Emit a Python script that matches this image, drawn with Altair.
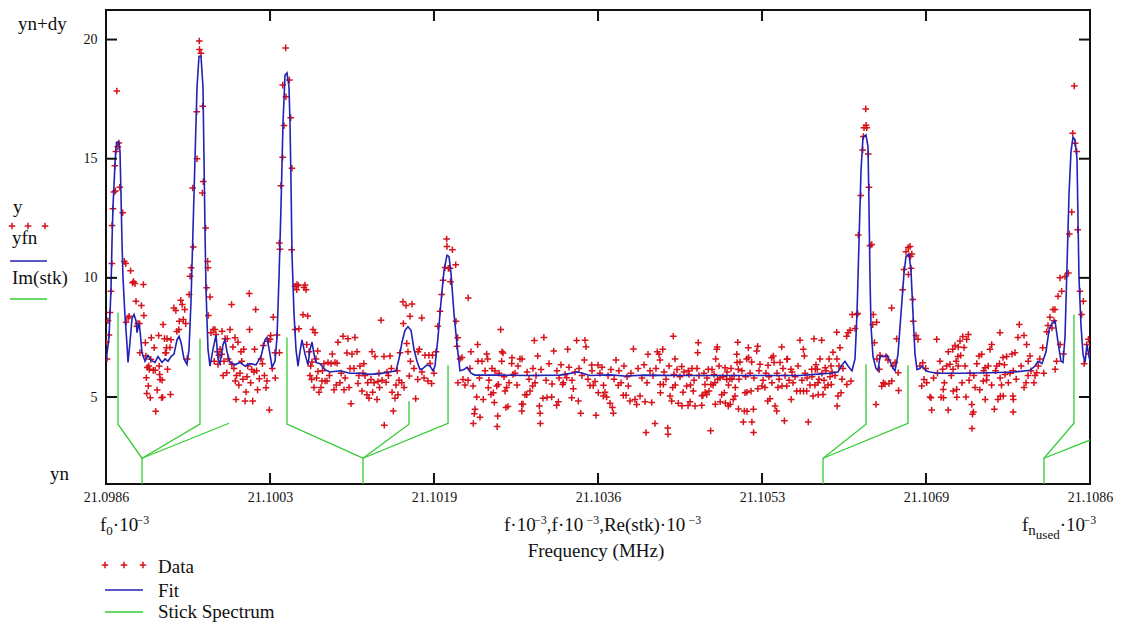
import altair as alt
import pandas as pd

# ---------------- data: frequency f in kHz, signal y ----------------
data_seg1 = [(21098.605,7.3),(21098.610,6.6),(21098.620,8.2),(21098.630,7.6),(21098.640,8.55),(21098.650,9.44),(21098.660,10.6),(21098.662,12.2),(21098.670,12.9),(21098.680,13.6),(21098.690,14.7),(21098.695,13.65),(21098.700,15.3),(21098.710,17.84),(21098.720,15.5),(21098.730,15.66),(21098.740,13.8),(21098.770,12.73),(21098.786,10.69),(21098.800,10.6),(21098.805,8.14),(21098.825,8.32),(21098.835,8.39),(21098.850,10.3),(21098.870,9.79),(21098.880,9.84),(21098.895,9.76),(21098.905,9.02),(21098.915,7.97),(21098.925,8.08),(21098.940,8.08),(21098.945,6.86),(21098.960,8.84),(21098.980,9.72),(21098.985,8.42),(21099.000,7.28),(21099.005,6.72),(21099.010,5.81),(21099.015,5.15),(21099.020,6.24),(21099.030,5.46),(21099.035,6.3),(21099.040,6.16),(21099.050,4.97),(21099.055,6.58),(21099.060,7.49),(21099.080,6.12),(21099.090,7.07),(21099.100,6.12),(21099.105,4.4),(21099.120,5.29),(21099.135,7.58),(21099.140,6.3),(21099.145,5.95),(21099.150,5.74),(21099.165,4.97),(21099.170,5.71),(21099.175,4.99),(21099.180,8.04),(21099.195,7.45),(21099.203,6.86),(21099.210,6.86),(21099.215,7.07),(21099.220,7.45),(21099.225,6.16),(21099.250,7.08),(21099.255,5.11),(21099.260,7.4),(21099.290,8.74),(21099.310,8.63),(21099.320,7.75),(21099.340,7.83),(21099.345,8.18),(21099.360,9.06),(21099.375,8.88),(21099.385,8.25),(21099.400,8.67),(21099.410,8.08),(21099.425,6.6),(21099.445,9.3),(21099.455,10.07),(21099.465,10.42),(21099.481,13.77),(21099.487,11.3)]

data_seg2 = [(21099.522,16.97),(21099.525,15.0),(21099.548,19.94),(21099.550,19.58),(21099.565,19.42),(21099.579,13.56),(21099.583,17.2),(21099.589,14.04),(21099.613,12.09),(21099.623,9.58),(21099.633,10.69),(21099.636,10.42),(21099.640,8.42),(21099.657,9.2),(21099.667,7.7),(21099.690,7.83),(21099.700,6.5),(21099.708,7.83),(21099.718,7.62),(21099.733,6.9),(21099.738,6.37),(21099.748,6.75),(21099.760,7.0),(21099.776,6.79),(21099.779,7.76),(21099.790,5.9),(21099.799,6.5),(21099.809,7.45),(21099.827,6.02),(21099.832,7.45),(21099.840,6.6),(21099.860,7.83),(21099.876,8.88),(21099.879,6.37),(21099.890,7.1),(21099.900,6.2),(21099.911,7.49),(21099.914,5.67),(21099.921,4.9),(21099.926,5.9),(21099.941,7.3),(21099.950,5.5),(21099.962,6.0),(21099.972,6.9),(21099.980,6.5),(21099.992,5.75),(21100.000,7.0),(21100.013,4.83),(21100.023,5.21),(21100.033,5.85),(21100.040,6.3),(21100.056,9.34),(21100.059,7.83),(21100.070,5.6),(21100.081,6.15),(21100.091,4.83),(21100.104,6.05),(21100.110,7.0),(21100.121,8.67),(21100.131,6.1),(21100.140,5.3),(21100.158,5.77),(21100.175,6.6),(21100.190,6.4),(21100.199,7.16),(21100.210,5.9),(21100.226,5.39),(21100.236,5.67),(21100.249,7.34),(21100.260,4.46),(21100.267,7.42),(21100.274,7.58),(21100.290,6.2),(21100.300,8.35),(21100.317,6.86),(21100.320,5.8),(21100.338,7.6),(21100.361,11.46),(21100.362,6.86),(21100.368,11.2),(21100.378,13.87),(21100.395,15.06),(21100.396,18.09)]

data_seg3 = [(21100.409,16.39),(21100.426,19.65),(21100.429,17.6),(21100.463,18.3),(21100.477,16.72),(21100.487,11.18),(21100.490,14.6),(21100.521,9.65),(21100.522,7.83),(21100.538,9.5),(21100.541,9.72),(21100.554,9.68),(21100.561,7.86),(21100.602,8.45),(21100.612,9.6),(21100.622,9.7),(21100.633,9.5),(21100.640,7.2),(21100.650,8.4),(21100.663,6.9),(21100.673,5.9),(21100.680,6.3),(21100.690,5.74),(21100.693,6.47),(21100.704,7.83),(21100.714,5.4),(21100.724,7.7),(21100.734,6.6),(21100.740,5.8),(21100.751,6.93),(21100.754,6.07),(21100.765,5.2),(21100.785,5.4),(21100.795,5.67),(21100.800,6.1),(21100.815,6.4),(21100.826,5.67),(21100.846,5.67),(21100.856,6.45),(21100.870,5.9),(21100.887,6.4),(21100.900,6.8),(21100.917,5.3),(21100.927,6.45),(21100.940,5.5),(21100.948,6.42),(21100.958,7.3),(21100.978,5.6),(21100.990,6.0),(21101.009,7.55),(21101.019,5.3),(21101.030,5.8),(21101.049,6.85),(21101.059,7.45),(21101.070,5.4),(21101.080,6.2),(21101.090,4.72),(21101.100,6.8),(21101.120,6.2),(21101.130,7.5),(21101.151,6.9),(21101.161,5.57),(21101.170,5.9),(21101.181,6.3),(21101.202,5.25),(21101.212,6.0),(21101.220,6.4),(21101.232,5.9),(21101.252,5.1),(21101.260,5.6),(21101.273,4.95),(21101.293,5.74),(21101.303,6.9),(21101.310,5.2),(21101.324,5.6),(21101.334,6.7),(21101.354,4.9),(21101.364,5.65),(21101.374,6.0),(21101.380,5.4),(21101.395,8.22),(21101.405,5.7),(21101.425,6.7),(21101.428,3.82),(21101.446,5.62),(21101.456,6.05),(21101.470,5.9),(21101.486,6.72),(21101.500,6.2),(21101.507,5.2),(21101.520,4.41),(21101.537,4.95),(21101.547,5.5),(21101.560,6.1),(21101.567,5.1),(21101.578,5.7),(21101.588,6.86)]

data_seg4 = [(21101.605,5.6),(21101.618,9.0),(21101.622,8.08),(21101.629,5.4),(21101.649,8.84),(21101.656,7.25),(21101.669,6.9),(21101.682,5.88),(21101.689,8.39),(21101.694,6.5),(21101.710,8.9),(21101.730,6.2),(21101.747,4.93),(21101.768,5.74),(21101.771,6.9),(21101.784,7.0),(21101.809,8.32),(21101.811,6.05),(21101.832,5.8),(21101.842,6.75),(21101.872,5.67),(21101.882,6.75),(21101.893,6.41),(21101.909,5.57),(21101.918,6.75),(21101.933,6.0),(21101.954,6.9),(21101.972,7.97),(21101.994,8.6),(21102.012,9.3),(21102.025,9.9),(21102.045,10.43),(21102.062,11.63),(21102.065,11.32),(21102.079,10.4),(21102.096,10.4),(21102.101,9.84),(21102.120,11.18),(21102.154,10.55),(21102.157,8.18),(21102.167,7.13),(21102.174,7.49),(21102.177,5.6),(21102.198,6.6),(21102.218,6.66),(21102.228,5.74),(21102.248,5.5),(21102.279,5.7),(21102.281,9.16),(21102.299,6.2),(21102.309,6.9),(21102.330,5.46),(21102.333,3.89),(21102.343,4.3)]

data_seg5a = [(21102.350,4.49),(21102.367,5.0),(21102.377,7.2),(21102.380,6.5),(21102.395,5.8),(21102.401,4.15),(21102.421,6.5),(21102.434,4.9),(21102.452,6.1),(21102.469,6.8),(21102.479,6.6),(21102.485,5.39),(21102.492,5.7),(21102.513,5.11),(21102.523,6.2),(21102.536,5.18),(21102.546,4.77),(21102.553,6.09),(21102.571,5.46),(21102.575,3.76),(21102.581,4.2),(21102.587,5.53),(21102.594,6.0),(21102.611,7.83),(21102.621,6.5),(21102.624,6.9),(21102.635,6.85),(21102.645,5.85),(21102.655,5.25),(21102.665,4.56),(21102.672,5.4),(21102.685,4.6),(21102.696,5.6),(21102.723,6.41),(21102.726,6.65),(21102.736,5.95),(21102.757,6.0),(21102.777,5.5),(21102.787,6.3),(21102.807,6.6),(21102.825,4.7),(21102.826,4.41),(21102.828,6.6),(21102.838,4.7),(21102.858,5.1),(21102.876,5.1),(21102.879,6.05),(21102.899,5.75),(21102.909,5.25),(21102.936,5.46),(21102.939,6.2),(21102.953,7.37),(21102.960,5.6),(21102.970,5.9),(21102.987,6.72),(21103.004,4.62),(21103.011,4.32),(21103.014,3.89),(21103.021,6.15),(21103.041,4.95),(21103.050,7.5),(21103.072,5.7),(21103.082,4.98),(21103.102,6.4),(21103.129,5.0),(21103.133,5.55),(21103.150,6.93),(21103.180,4.65),(21103.183,6.1),(21103.197,4.8),(21103.204,5.8),(21103.224,6.35),(21103.241,5.53),(21103.247,5.6),(21103.265,5.95),(21103.282,5.81),(21103.292,7.0),(21103.305,6.25),(21103.333,4.97),(21103.336,5.7),(21103.349,5.35),(21103.366,6.05),(21103.383,7.37),(21103.400,4.83),(21103.407,6.2),(21103.424,4.32),(21103.437,5.9),(21103.461,6.55),(21103.468,7.38),(21103.478,7.11),(21103.498,5.75),(21103.519,5.48),(21103.536,6.34),(21103.539,6.1),(21103.552,5.48),(21103.570,5.65),(21103.580,4.23),(21103.600,6.34),(21103.603,5.18),(21103.620,6.0),(21103.641,6.25),(21103.654,5.04),(21103.656,5.49),(21103.671,5.2),(21103.688,5.0),(21103.702,5.9),(21103.722,4.74),(21103.732,6.15),(21103.746,4.56),(21103.756,4.32),(21103.763,5.75),(21103.783,6.55),(21103.806,5.49),(21103.813,6.1),(21103.834,5.6),(21103.857,5.07),(21103.864,6.3),(21103.885,5.07),(21103.895,5.85),(21103.908,5.46),(21103.925,4.83),(21103.935,6.0),(21103.960,7.02),(21103.976,4.9),(21103.993,4.69),(21104.007,6.2),(21104.027,5.04),(21104.047,5.8),(21104.068,6.35),(21104.078,4.8),(21104.088,3.51),(21104.098,5.6)]

data_seg5b = [(21104.108,6.79),(21104.129,6.1),(21104.146,4.77),(21104.159,5.9),(21104.179,3.89),(21104.189,6.2),(21104.203,6.9),(21104.220,6.79),(21104.230,6.55),(21104.232,5.53),(21104.235,5.18),(21104.258,7.0),(21104.264,5.53),(21104.271,6.05),(21104.291,5.75),(21104.309,3.7),(21104.312,3.44),(21104.322,6.3),(21104.332,5.04),(21104.349,4.83),(21104.359,5.4),(21104.365,7.55),(21104.372,5.95),(21104.383,6.6),(21104.385,5.5),(21104.403,6.15),(21104.416,4.74),(21104.433,5.85),(21104.451,6.28),(21104.453,4.63),(21104.464,5.2),(21104.474,6.05),(21104.501,5.46),(21104.515,4.64),(21104.517,6.1),(21104.525,5.95),(21104.535,4.8),(21104.540,5.5),(21104.555,6.2),(21104.568,5.25),(21104.576,5.7),(21104.586,4.62),(21104.606,6.2),(21104.613,6.86),(21104.619,7.28),(21104.626,5.9),(21104.654,4.65),(21104.656,5.05),(21104.667,5.07),(21104.677,6.0),(21104.687,5.53),(21104.690,5.2),(21104.705,5.11),(21104.708,5.8),(21104.721,6.16),(21104.728,5.25),(21104.745,3.58),(21104.748,5.53),(21104.759,6.15),(21104.769,5.5),(21104.779,5.95),(21104.789,5.6),(21104.792,4.7),(21104.796,6.6),(21104.806,7.0),(21104.812,7.1),(21104.816,5.75),(21104.830,6.3),(21104.840,5.8),(21104.842,4.8),(21104.857,5.1),(21104.870,5.85),(21104.884,5.18),(21104.891,6.23),(21104.894,4.75),(21104.908,5.74),(21104.911,6.05),(21104.924,4.62),(21104.926,5.5),(21104.941,5.77),(21104.943,4.7),(21104.952,6.2),(21104.962,5.75),(21104.975,4.9),(21104.982,5.9),(21104.992,5.04),(21104.995,5.4),(21105.010,6.79),(21105.013,6.45),(21105.020,7.3),(21105.026,6.16),(21105.028,4.5),(21105.033,5.75),(21105.043,6.47),(21105.063,6.1),(21105.077,3.95),(21105.087,4.41),(21105.094,5.18),(21105.100,5.85),(21105.111,6.6),(21105.113,5.2),(21105.114,4.4),(21105.128,7.07),(21105.130,6.66),(21105.145,6.0),(21105.155,5.25),(21105.162,6.47),(21105.164,3.95),(21105.179,4.49),(21105.181,3.51),(21105.185,5.8),(21105.213,6.93),(21105.223,7.13),(21105.225,5.35),(21105.236,6.1),(21105.246,6.37),(21105.267,5.46),(21105.277,5.7),(21105.297,5.4),(21105.307,6.0),(21105.325,4.83),(21105.328,6.33),(21105.338,5.85),(21105.348,4.93),(21105.365,6.65),(21105.368,5.6),(21105.382,6.72),(21105.389,6.45),(21105.399,4.62),(21105.416,4.41),(21105.419,6.0),(21105.429,5.4),(21105.440,5.75),(21105.450,6.45),(21105.467,7.1),(21105.470,5.46),(21105.480,6.2),(21105.494,4.0),(21105.501,5.9),(21105.518,5.46),(21105.520,6.58),(21105.524,6.6),(21105.541,5.7),(21105.561,6.16),(21105.563,4.9),(21105.572,6.05),(21105.582,5.6),(21105.602,5.85),(21105.619,5.25),(21105.633,6.3),(21105.653,7.38),(21105.655,5.25),(21105.673,5.7),(21105.687,7.0),(21105.689,5.25),(21105.697,6.72),(21105.704,6.0),(21105.721,5.25),(21105.724,5.8),(21105.737,3.95),(21105.754,5.5),(21105.772,6.16),(21105.775,5.85),(21105.785,5.04),(21105.795,7.44),(21105.805,5.5),(21105.807,6.16),(21105.815,6.35),(21105.829,6.16),(21105.836,5.6),(21105.838,5.1),(21105.846,5.75),(21105.856,6.6),(21105.873,7.38),(21105.876,6.0),(21105.887,5.11),(21105.897,5.7),(21105.907,5.4),(21105.909,6.23),(21105.917,6.1),(21105.937,5.5),(21105.948,6.6),(21105.958,5.85),(21105.968,6.3),(21105.970,5.53),(21105.978,6.05),(21105.988,6.88),(21106.009,5.9),(21106.026,7.72),(21106.028,6.6),(21106.030,4.62),(21106.039,5.04),(21106.049,6.3),(21106.059,7.07),(21106.070,5.18),(21106.080,5.75),(21106.090,6.2)]

data_seg6 = [(21106.127,7.55),(21106.129,5.53),(21106.141,7.7),(21106.161,7.8),(21106.171,5.67),(21106.184,8.46),(21106.212,7.88),(21106.229,8.46),(21106.239,8.5),(21106.245,11.8),(21106.270,13.46),(21106.290,15.37),(21106.297,15.93),(21106.303,16.3),(21106.321,17.09),(21106.324,16.4),(21106.331,16.3),(21106.347,15.2),(21106.354,13.8),(21106.364,11.35),(21106.382,11.4),(21106.392,8.04),(21106.398,8.46),(21106.409,7.28),(21106.425,4.69),(21106.432,8.14),(21106.435,6.6),(21106.459,6.16),(21106.466,6.75),(21106.483,5.45),(21106.499,5.6),(21106.517,5.55),(21106.527,6.7),(21106.547,6.55),(21106.557,5.57),(21106.584,8.74),(21106.586,5.67),(21106.598,6.3),(21106.618,6.45),(21106.635,7.44),(21106.651,6.02),(21106.655,5.27),(21106.695,9.5),(21106.709,10.35),(21106.730,11.1),(21106.753,11.27),(21106.755,10.14),(21106.771,11.32),(21106.776,10.9),(21106.781,10.4),(21106.789,11.0),(21106.799,9.09),(21106.804,8.18),(21106.832,7.58),(21106.852,7.42),(21106.872,6.3),(21106.890,5.46),(21106.900,6.44)]

data_seg7 = [(21106.913,5.74),(21106.930,6.2),(21106.940,5.6),(21106.974,5.0),(21106.984,4.97),(21106.991,4.45),(21107.010,5.8),(21107.042,7.42),(21107.050,6.0),(21107.076,6.5),(21107.086,4.99),(21107.103,6.16),(21107.109,5.32),(21107.111,4.97),(21107.120,5.6),(21107.143,6.3),(21107.159,4.45),(21107.160,6.9),(21107.177,6.37),(21107.190,5.9),(21107.205,7.0),(21107.208,6.16),(21107.210,5.25),(21107.228,7.16),(21107.240,6.5),(21107.245,5.32),(21107.247,4.99),(21107.258,6.7),(21107.260,6.3),(21107.261,7.1),(21107.279,7.35),(21107.286,6.74),(21107.300,5.6),(21107.307,7.54),(21107.320,7.08),(21107.330,6.3),(21107.340,5.0),(21107.347,7.42),(21107.364,7.62),(21107.371,5.7),(21107.380,6.0),(21107.399,4.69),(21107.401,3.68),(21107.405,4.28),(21107.415,4.37),(21107.420,5.9),(21107.432,5.4),(21107.450,6.4),(21107.472,6.72),(21107.480,5.3),(21107.499,6.79),(21107.515,5.67),(21107.520,6.1),(21107.533,6.23),(21107.535,4.9),(21107.549,5.71),(21107.550,5.9),(21107.566,6.3),(21107.584,7.0),(21107.600,5.5),(21107.601,7.2),(21107.628,4.49),(21107.640,6.1),(21107.652,6.3),(21107.665,4.9),(21107.680,6.4),(21107.685,7.7),(21107.687,5.8),(21107.689,5.04),(21107.700,5.5),(21107.716,6.66),(21107.718,5.04),(21107.730,6.35),(21107.736,5.95),(21107.753,6.7),(21107.770,5.6),(21107.787,6.0),(21107.807,6.8),(21107.817,5.04),(21107.819,4.37),(21107.820,6.1),(21107.821,4.9),(21107.838,6.86),(21107.850,5.75),(21107.868,7.5),(21107.881,8.04),(21107.900,6.3),(21107.929,7.58),(21107.930,5.4),(21107.950,5.6),(21107.956,7.2),(21107.970,5.9),(21107.972,6.5),(21107.990,6.72),(21108.000,6.1),(21108.030,5.6),(21108.041,5.9)]

data_seg8 = [(21108.058,6.02),(21108.074,6.3),(21108.090,6.6),(21108.119,7.07),(21108.130,6.0),(21108.160,7.74),(21108.173,8.0),(21108.193,8.35),(21108.214,7.9),(21108.224,8.67),(21108.234,8.2),(21108.244,8.67),(21108.246,6.16),(21108.260,6.5),(21108.275,9.23),(21108.295,10.0),(21108.297,7.2),(21108.312,9.44),(21108.330,6.8),(21108.346,10.06),(21108.380,10.2),(21108.390,11.84),(21108.414,12.76),(21108.424,16.07),(21108.440,18.05),(21108.448,15.65),(21108.465,15.3),(21108.475,12.02),(21108.498,9.44),(21108.515,8.46),(21108.532,9.02),(21108.540,6.4),(21108.567,7.2),(21108.584,7.42),(21108.590,6.8)]

fit_curve = [(21098.6000,6.5),(21098.6305,7.5),(21098.6508,9.5),(21098.6610,11.5),(21098.6711,13.0),(21098.6915,14.8),(21098.7016,15.5),(21098.7118,15.7),(21098.7321,15.7),(21098.7423,15.3),(21098.7524,13.5),(21098.7626,11.5),(21098.7728,10.0),(21098.7931,8.4),(21098.8134,7.2),(21098.8236,6.45),(21098.8439,7.3),(21098.8642,8.3),(21098.8846,8.46),(21098.9049,8.2),(21098.9150,7.7),(21098.9354,8.1),(21098.9455,7.8),(21098.9659,6.86),(21098.9963,6.5),(21099.0268,6.75),(21099.0573,6.55),(21099.0980,6.45),(21099.1285,6.7),(21099.1691,6.45),(21099.1996,6.6),(21099.2301,6.5),(21099.2606,6.7),(21099.2911,6.8),(21099.3215,7.4),(21099.3419,7.55),(21099.3622,7.3),(21099.3927,6.6),(21099.4232,6.37),(21099.4435,7.0),(21099.4638,9.0),(21099.4841,12.0),(21099.5045,15.0),(21099.5248,18.0),(21099.5451,19.3),(21099.5654,19.3),(21099.5858,18.0),(21099.5959,15.0),(21099.6061,12.0),(21099.6163,9.5),(21099.6366,7.0),(21099.6569,6.3),(21099.6874,7.0),(21099.7179,7.6),(21099.7382,6.6),(21099.7585,6.4),(21099.7890,7.2),(21099.8093,7.4),(21099.8297,6.9),(21099.8602,6.45),(21099.9110,6.35),(21099.9618,6.45),(21100.0126,6.3),(21100.0634,6.4),(21100.1244,6.35),(21100.1752,6.7),(21100.2159,7.4),(21100.2362,7.5),(21100.2667,6.8),(21100.2870,6.25),(21100.3175,6.5),(21100.3378,7.5),(21100.3581,10.0),(21100.3785,13.0),(21100.3988,16.5),(21100.4191,18.5),(21100.4394,18.6),(21100.4598,18.0),(21100.4699,16.5),(21100.4801,14.0),(21100.4902,11.0),(21100.5106,8.5),(21100.5309,7.0),(21100.5512,6.3),(21100.5715,6.9),(21100.5919,7.4),(21100.6224,6.8),(21100.6528,6.35),(21100.6732,7.0),(21100.6935,7.3),(21100.7138,6.8),(21100.7341,6.45),(21100.7748,6.4),(21100.8256,6.15),(21100.8764,6.05),(21100.9780,6.1),(21101.0797,6.0),(21101.1813,6.0),(21101.2829,5.95),(21101.3846,5.98),(21101.4862,6.05),(21101.5472,6.1),(21101.5776,6.6),(21101.6081,7.3),(21101.6386,7.8),(21101.6691,7.95),(21101.6996,7.8),(21101.7301,7.0),(21101.7606,6.5),(21101.7911,6.15),(21101.8215,6.2),(21101.8622,6.35),(21101.8927,6.3),(21101.9232,6.1),(21101.9435,6.3),(21101.9740,7.5),(21102.0045,9.0),(21102.0350,10.3),(21102.0654,10.95),(21102.0858,10.9),(21102.1061,10.2),(21102.1366,8.5),(21102.1671,7.2),(21102.1976,6.1),(21102.2382,6.15),(21102.2687,6.25),(21102.3093,6.0),(21102.3500,5.92),(21102.6041,5.92),(21102.9089,5.9),(21103.2138,5.92),(21103.3967,6.05),(21103.5187,5.9),(21103.7220,5.93),(21103.8744,5.88),(21104.0776,5.92),(21104.4333,5.9),(21104.8398,5.9),(21105.2463,5.9),(21105.6528,5.9),(21105.8053,5.95),(21105.9577,6.0),(21106.0390,6.05),(21106.0797,6.35),(21106.1102,6.5),(21106.1407,6.3),(21106.1813,6.1),(21106.2118,6.6),(21106.2321,8.5),(21106.2524,11.5),(21106.2728,14.5),(21106.2931,15.9),(21106.3236,16.0),(21106.3439,15.5),(21106.3541,13.0),(21106.3642,10.0),(21106.3744,8.0),(21106.3947,6.7),(21106.4252,6.2),(21106.4455,6.1),(21106.4659,6.7),(21106.5065,6.7),(21106.5370,6.75),(21106.5675,6.5),(21106.5980,6.2),(21106.6183,6.1),(21106.6488,6.8),(21106.6793,8.5),(21106.7098,10.2),(21106.7301,10.9),(21106.7606,11.0),(21106.7809,10.3),(21106.8012,8.5),(21106.8215,6.8),(21106.8419,6.15),(21106.8724,6.2),(21106.8927,6.3),(21106.9333,6.1),(21106.9740,6.05),(21107.0451,6.0),(21107.2789,6.0),(21107.5837,6.02),(21107.8378,6.05),(21107.9902,6.12),(21108.0411,6.3),(21108.0715,6.5),(21108.1122,6.4),(21108.1528,6.9),(21108.1833,7.8),(21108.2138,8.1),(21108.2443,8.2),(21108.2748,7.3),(21108.3053,6.5),(21108.3256,6.45),(21108.3459,7.5),(21108.3663,10.5),(21108.3866,13.5),(21108.4069,15.3),(21108.4272,15.9),(21108.4476,15.8),(21108.4679,15.0),(21108.4780,12.5),(21108.4882,10.0),(21108.5085,8.0),(21108.5289,6.8),(21108.5492,6.45),(21108.5695,7.2),(21108.6000,6.5)]

# stick spectrum polylines: (path id, f kHz, y)
stick_points = [
    (0,21098.966,0.0),(0,21098.966,2.43),(0,21098.722,3.86),(0,21098.722,8.55),
    (1,21098.966,2.43),(1,21099.555,3.86),(1,21099.555,7.46),
    (2,21098.966,2.43),(2,21099.850,3.90),
    (3,21101.212,0.0),(3,21101.212,2.43),(3,21100.439,3.86),(3,21100.439,7.50),
    (4,21101.212,2.43),(4,21101.679,3.86),(4,21101.679,4.82),
    (5,21101.212,2.43),(5,21102.076,3.90),(5,21102.076,6.33),
    (6,21105.887,0.0),(6,21105.887,2.43),(6,21106.324,3.86),(6,21106.324,6.37),
    (7,21105.887,2.43),(7,21106.750,3.90),(7,21106.750,6.33),
    (8,21108.132,0.0),(8,21108.132,2.43),(8,21108.437,3.90),(8,21108.437,8.46),
    (9,21108.132,2.43),(9,21108.800,3.52),
]

x_tick_values = [21.0986, 21.100267, 21.101933, 21.1036, 21.105267, 21.106933, 21.1086]
y_tick_values = [5, 10, 15, 20]

# ---------------- styling ----------------
W, H = 984, 474
X_DOMAIN = [21.0986, 21.1086]
Y_DOMAIN = [1.35, 21.24]
FONT = "Liberation Serif, Times New Roman, Times, Tinos, Noto Serif, DejaVu Serif, FreeSerif, serif"
RED = "#d8121a"
BLUE = "#2222b4"
GREEN = "#33cc33"
INK = "#111111"
CROSS = "M-1,0L1,0M0,-1L0,1"

pts = pd.DataFrame(data_seg1 + data_seg2 + data_seg3 + data_seg4 + data_seg5a +
                   data_seg5b + data_seg6 + data_seg7 + data_seg8, columns=["f", "y"])
pts["x"] = pts["f"] * 1e-3
fit = pd.DataFrame(fit_curve, columns=["f", "y"])
fit["x"] = fit["f"] * 1e-3
stk = pd.DataFrame(stick_points, columns=["path", "f", "y"])
stk["x"] = stk["f"] * 1e-3
stk["k"] = range(len(stk))

xaxis = alt.Axis(values=x_tick_values, format=".4f", title=None, ticks=False, tickSize=0,
                 domain=False, grid=False, labelFont=FONT, labelFontSize=14, labelColor=INK,
                 labelPadding=6, labelFlush=False, labelOverlap=False, labelBound=False)
yaxis = alt.Axis(values=y_tick_values, format="d", title=None, ticks=False, tickSize=0,
                 domain=False, grid=False, labelFont=FONT, labelFontSize=14, labelColor=INK,
                 labelPadding=9, labelOverlap=False)
X = alt.X("x:Q", scale=alt.Scale(domain=X_DOMAIN, nice=False, zero=False), axis=xaxis)
Y = alt.Y("y:Q", scale=alt.Scale(domain=Y_DOMAIN, nice=False, zero=False), axis=yaxis)

points_layer = alt.Chart(pts).mark_point(shape=CROSS, size=44, filled=False, color=RED,
                                         strokeWidth=1.5, opacity=1, clip=True).encode(x=X, y=Y)
fit_layer = alt.Chart(fit).mark_line(color=BLUE, strokeWidth=1.6, clip=True).encode(x=X, y=Y)
stick_layer = alt.Chart(stk).mark_line(color=GREEN, strokeWidth=1.3, clip=True).encode(
    x=X, y=Y, detail="path:N", order=alt.Order("k:Q"))

xt = pd.DataFrame({"x": x_tick_values})
yt = pd.DataFrame({"y": y_tick_values})
TL = 11
tick_layers = [
    alt.Chart(xt).mark_rule(color=INK, strokeWidth=2).encode(x=X, y=alt.value(H - TL), y2=alt.value(H)),
    alt.Chart(xt).mark_rule(color=INK, strokeWidth=2).encode(x=X, y=alt.value(0), y2=alt.value(TL)),
    alt.Chart(yt).mark_rule(color=INK, strokeWidth=2).encode(y=Y, x=alt.value(0), x2=alt.value(TL)),
    alt.Chart(yt).mark_rule(color=INK, strokeWidth=2).encode(y=Y, x=alt.value(W - TL), x2=alt.value(W)),
]


def label(text, x, y, size=19, align="left"):
    return alt.Chart(pd.DataFrame({"t": [text]})).mark_text(
        align=align, baseline="alphabetic", font=FONT, fontSize=size, color=INK
    ).encode(x=alt.value(x), y=alt.value(y), text="t:N")


def cross(x, y):
    return alt.Chart(pd.DataFrame({"a": [0]})).mark_point(
        shape=CROSS, size=44, filled=False, color=RED, strokeWidth=1.5, opacity=1
    ).encode(x=alt.value(x), y=alt.value(y))


def hline(x1, x2, y, color):
    return alt.Chart(pd.DataFrame({"a": [0]})).mark_rule(color=color, strokeWidth=1.6).encode(
        x=alt.value(x1), x2=alt.value(x2), y=alt.value(y))


TW = {"f": 0.333, "0": 0.5, "1": 0.5, "3": 0.5, "·": 0.25, "−": 0.564, ",": 0.25, " ": 0.25,
      "R": 0.667, "e": 0.444, "(": 0.333, ")": 0.333, "s": 0.389, "t": 0.278, "k": 0.5,
      "n": 0.5, "u": 0.5, "d": 0.5}


def composite(pieces, x0, y0):
    out, x = [], x0
    for s, size, dy in pieces:
        out.append(label(s, x, y0 + dy, size))
        x += size * sum(TW.get(c, 0.5) for c in s)
    return out


text_layers = []
# left-side trace legend
text_layers += [label("yn+dy", -88, 20), label("y", -93, 203), cross(-94, 216), cross(-78, 216),
                cross(-61, 216), label("yfn", -94, 234), hline(-96, -59, 251, BLUE),
                label("Im(stk)", -94, 274), hline(-96, -59, 289, GREEN), label("yn", -56, 470)]
# axis expressions under the x axis
text_layers += composite([("f", 19, 0), ("0", 13, 4), ("·10", 19, 0), ("−3", 12, -7)], -6, 521)
text_layers += composite([("f·10", 19, 0), ("−3", 12, -7), (" ,f·10", 19, 0), ("−3", 12, -7),
                          (" ,Re(stk)·10", 19, 0), ("−3", 12, -7)], 398, 521)
text_layers += composite([("f", 19, 0), ("n", 15, 4), ("used", 13, 8), ("·10", 19, 0),
                          ("−3", 12, -7)], 916, 521)
text_layers += [label("Frequency (MHz)", 490, 547, align="center")]
# bottom legend
text_layers += [cross(-1, 555), cross(18, 555), cross(37, 555), label("Data", 52, 563),
                hline(-1, 37, 580, BLUE), label("Fit", 52, 587),
                hline(-1, 37, 602, GREEN), label("Stick Spectrum", 52, 608)]

chart = alt.layer(points_layer, fit_layer, stick_layer, *tick_layers, *text_layers).properties(
    width=W, height=H,
    autosize=alt.AutoSizeParams(type="none"),
    padding={"left": 98, "top": 2, "right": 30, "bottom": 138},
    background="white",
).configure_view(stroke=INK, strokeWidth=2)

chart.save("out.html", embed_options={"renderer": "svg", "actions": False})
